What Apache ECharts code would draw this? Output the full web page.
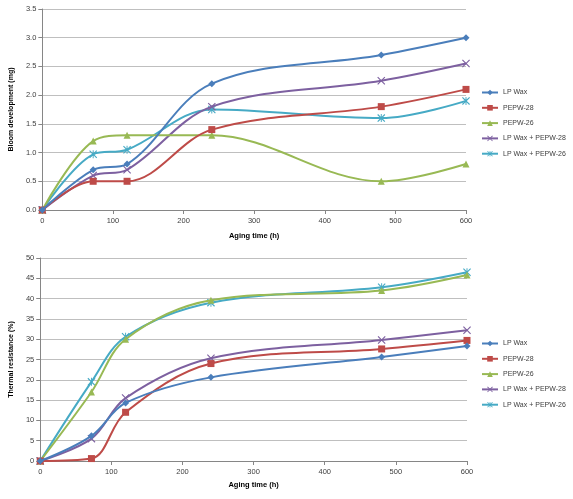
<!DOCTYPE html>
<html><head><meta charset="utf-8">
<script src="https://cdn.jsdelivr.net/npm/echarts@6/dist/echarts.min.js"></script>
<style>html,body{margin:0;padding:0;background:#fff}#c{width:573px;height:499px}</style>
</head><body><div id="c"></div>
<script>
const hours = [0, 72, 120, 240, 480, 600];
const seriesNames = ['LP Wax', 'PEPW-28', 'PEPW-26', 'LP Wax + PEPW-28', 'LP Wax + PEPW-26'];
// Bloom development (mg)
const bloomLPWax = [0, 0.7, 0.8, 2.2, 2.7, 3.0];
const bloomPEPW28 = [0, 0.5, 0.5, 1.4, 1.8, 2.1];
const bloomPEPW26 = [0, 1.2, 1.3, 1.3, 0.5, 0.8];
const bloomLP28 = [0, 0.6, 0.7, 1.8, 2.25, 2.55];
const bloomLP26 = [0, 0.97, 1.05, 1.75, 1.6, 1.9];
// Thermal resistance (%)
const thermLPWax = [0, 6.2, 14.3, 20.6, 25.6, 28.3];
const thermPEPW28 = [0, 0.6, 12, 24, 27.6, 29.7];
const thermPEPW26 = [0, 17, 30, 39.6, 42, 45.8];
const thermLP28 = [0, 5.5, 15.5, 25.3, 29.8, 32.2];
const thermLP26 = [0, 19.5, 30.6, 39, 42.8, 46.5];

const colors = ['#4A7EBB', '#BE4B48', '#98B954', '#7D60A0', '#46AAC5'];
const xSym = 'path://M0,1L1,0L5,4L9,0L10,1L6,5L10,9L9,10L5,6L1,10L0,9L4,5Z';
const astSym = 'path://M0,1L1,0L5,4L9,0L10,1L6,5L10,9L9,10L5,6L1,10L0,9L4,5Z M4.4,0L5.6,0L5.6,10L4.4,10Z';
const symbols = ['diamond', 'rect', 'triangle', xSym, astSym];
const symSizes = [7, 7, 7, 8, 8];

const bloomData = [bloomLPWax, bloomPEPW28, bloomPEPW26, bloomLP28, bloomLP26];
const thermData = [thermLPWax, thermPEPW28, thermPEPW26, thermLP28, thermLP26];

function mk(vals, i, gi) {
  return {
    name: seriesNames[i], type: 'line', xAxisIndex: gi, yAxisIndex: gi,
    data: hours.map((h, k) => [h, vals[k]]),
    smooth: 0.35, symbol: symbols[i], symbolSize: symSizes[i], showAllSymbol: true,
    lineStyle: {color: colors[i], width: 2}, itemStyle: {color: colors[i]},
    z: 5 - i
  };
}
const series = [];
bloomData.forEach((v, i) => series.push(mk(v, i, 0)));
thermData.forEach((v, i) => series.push(mk(v, i, 1)));

const lbl = {color: '#404040', fontSize: 7.5, fontFamily: 'Liberation Sans'};
const axLine = {show: true, lineStyle: {color: '#868686', width: 1}};
function xAx(gi, gap) {
  return {type: 'value', gridIndex: gi, min: 0, max: 600, interval: 100,
    name: 'Aging time (h)', nameLocation: 'middle', nameGap: gap,
    nameTextStyle: {fontSize: 7.5, fontWeight: 'bold', color: '#000', fontFamily: 'Liberation Sans'},
    axisLine: axLine, axisTick: {show: true, length: 4, lineStyle: {color: '#868686'}},
    axisLabel: Object.assign({margin: 7}, lbl), splitLine: {show: false}};
}
function yAx(gi, max, interval, name, dec) {
  return {type: 'value', gridIndex: gi, min: 0, max: max, interval: interval,
    name: name, nameLocation: 'middle', nameGap: 23, nameRotate: 90,
    nameTextStyle: {fontSize: 7, fontWeight: 'bold', color: '#000', fontFamily: 'Liberation Sans'},
    axisLine: axLine, axisTick: {show: true, length: 4, lineStyle: {color: '#868686'}},
    axisLabel: Object.assign({margin: 6, formatter: v => v.toFixed(dec)}, lbl),
    splitLine: {show: true, lineStyle: {color: '#BFBFBF', width: 1}}};
}
function leg(top, names) {
  return {orient: 'vertical', left: 481, top: top, itemGap: 8.3, itemWidth: 16, itemHeight: 7,
    padding: 0,
    data: names, textStyle: {fontSize: 7, color: '#404040', fontFamily: 'Liberation Sans'}};
}
const chart = echarts.init(document.getElementById('c'), null, {renderer: 'canvas'});
chart.setOption({
  animation: false,
  backgroundColor: '#fff',
  grid: [{left: 34, top: 9, width: 432, height: 201}, {left: 33, top: 258, width: 434, height: 203}],
  xAxis: [xAx(0, 22), xAx(1, 20)],
  yAxis: [yAx(0, 3.5, 0.5, 'Bloom development (mg)', 1), yAx(1, 50, 5, 'Thermal resistance (%)', 0)],
  legend: [leg(89, seriesNames), leg(340, seriesNames)],
  series: series
});
</script></body></html>
